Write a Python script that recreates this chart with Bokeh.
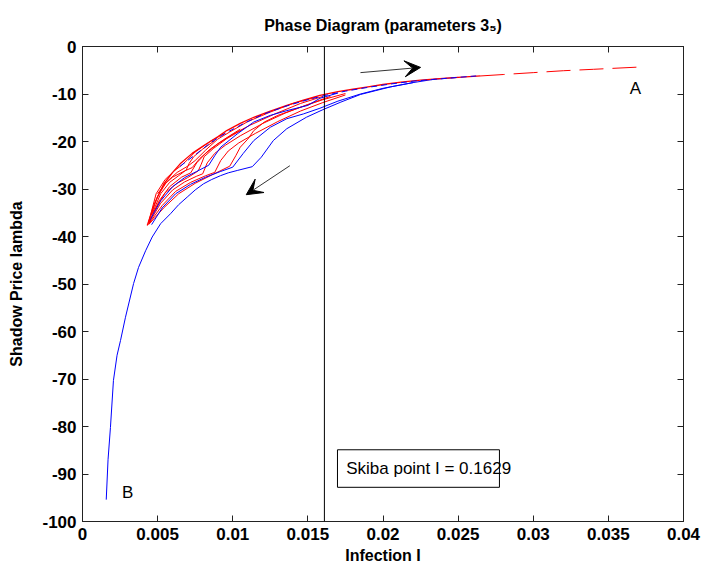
from bokeh.plotting import figure
from bokeh.models import (LinearAxis, FixedTicker, Span, BoxAnnotation, Label, Arrow,
                          VeeHead, Range1d)
from bokeh.embed import file_html
from bokeh.resources import INLINE

# ---------------- data ----------------
x_ticks = [0, 0.005, 0.01, 0.015, 0.02, 0.025, 0.03, 0.035, 0.04]
x_tick_labels = ["0", "0.005", "0.01", "0.015", "0.02", "0.025", "0.03", "0.035", "0.04"]
y_ticks = [0, -10, -20, -30, -40, -50, -60, -70, -80, -90, -100]
y_tick_labels = ["0", "-10", "-20", "-30", "-40", "-50", "-60", "-70", "-80", "-90", "-100"]

skiba_I = 0.0161

# upper (red) trajectory towards A
red_main_x = [0.00431, 0.0048, 0.0054, 0.0060, 0.0065, 0.0073, 0.0081, 0.0090, 0.0096, 0.0105,
              0.0114, 0.0125, 0.0136, 0.0147, 0.0158, 0.0170, 0.0180, 0.0190, 0.0200, 0.0212,
              0.0225, 0.0240, 0.0255, 0.0265]
red_main_y = [-37.7, -33.0, -29.0, -26.5, -24.7, -22.5, -20.8, -19.0, -17.7, -16.2,
              -14.9, -13.6, -12.4, -11.3, -10.3, -9.5, -9.0, -8.5, -8.0, -7.5,
              -7.1, -6.7, -6.4, -6.2]
# dashed continuation to A
red_dash_x = [0.0265, 0.0280, 0.0300, 0.0320, 0.0340, 0.0369]
red_dash_y = [-6.2, -5.9, -5.5, -5.1, -4.8, -4.35]

# inner red trajectories (the leaf-shaped bundle)
red2_x = [0.0044, 0.0050, 0.0056, 0.0063, 0.0070, 0.0075, 0.0082, 0.0090, 0.0098, 0.0110, 0.0125, 0.0140, 0.0155]
red2_y = [-37.0, -31.5, -28.5, -26.5, -25.2, -24.0, -21.8, -19.5, -18.0, -15.8, -13.8, -12.0, -10.7]
red3_x = [0.0044, 0.0051, 0.0058, 0.0066, 0.0072, 0.0076, 0.0082, 0.0090, 0.0100, 0.0112, 0.0128, 0.0145, 0.0160]
red3_y = [-37.2, -32.5, -29.5, -27.5, -26.6, -24.5, -22.5, -20.5, -18.5, -16.5, -14.2, -12.0, -10.5]
red4_x = [0.0044, 0.0052, 0.0060, 0.0068, 0.0076, 0.0080, 0.0083, 0.0088, 0.0095, 0.0105, 0.0120, 0.0135, 0.0150, 0.0165]
red4_y = [-37.3, -33.0, -30.2, -28.5, -27.3, -26.8, -24.5, -22.5, -20.8, -18.8, -16.2, -14.0, -12.2, -10.5]
red5_x = [0.0044, 0.0053, 0.0062, 0.0072, 0.0082, 0.0088, 0.0092, 0.0097, 0.0104, 0.0115, 0.0130, 0.0145, 0.0160, 0.0175]
red5_y = [-37.4, -33.5, -30.5, -28.6, -27.2, -26.5, -24.0, -22.0, -20.3, -18.3, -15.8, -13.6, -11.8, -10.2]
red6_x = [0.0044, 0.0054, 0.0064, 0.0075, 0.0087, 0.0098, 0.0102, 0.0105, 0.0110, 0.0114, 0.0121, 0.0130, 0.0145, 0.0160, 0.0175]
red6_y = [-37.5, -34.0, -31.0, -28.8, -26.9, -25.2, -23.0, -21.2, -19.5, -17.7, -15.9, -14.5, -12.8, -11.2, -9.9]
red7_x = [0.0044, 0.0049, 0.0055, 0.0061, 0.0066, 0.0070, 0.0075, 0.0085, 0.0095]
red7_y = [-37.0, -31.0, -28.0, -26.2, -25.0, -23.8, -22.2, -20.0, -18.2]
red8_x = [0.0050, 0.0055, 0.0060, 0.0068, 0.0073, 0.0078, 0.0085, 0.0094, 0.0105]
red8_y = [-31.0, -28.9, -27.5, -26.2, -25.5, -23.6, -21.6, -19.6, -17.4]
red9_x = [0.0046, 0.0052, 0.0058, 0.0064, 0.0069, 0.0071, 0.0074, 0.0080, 0.0088]
red9_y = [-35.5, -31.0, -28.6, -27.2, -26.0, -24.6, -23.2, -21.6, -19.8]
red10_x = [0.0047, 0.0055, 0.0063, 0.0070, 0.0077, 0.0079, 0.0081, 0.0087, 0.0096, 0.0108]
red10_y = [-35.0, -30.8, -28.8, -27.6, -26.2, -24.8, -23.2, -21.5, -19.4, -17.2]

# blue trajectories
blue_main_x = [0.0065, 0.0075, 0.0085, 0.0096, 0.0108, 0.0120, 0.0135, 0.0150, 0.0160, 0.0175,
               0.0190, 0.0205, 0.0220, 0.0235, 0.0250, 0.0262]
blue_main_y = [-25.2, -22.8, -20.3, -18.1, -16.1, -14.3, -12.6, -11.2, -10.4, -9.4,
               -8.6, -7.9, -7.3, -6.9, -6.5, -6.2]
blue2_x = [0.0045, 0.0052, 0.0060, 0.0068, 0.0076, 0.0084, 0.0088, 0.0092, 0.0103, 0.0114, 0.0125, 0.0136, 0.0150, 0.0158, 0.0170]
blue2_y = [-36.5, -32.5, -29.5, -27.6, -26.3, -25.0, -23.0, -21.2, -18.4, -15.9, -14.5, -13.5, -12.4, -10.9, -9.8]
blue3_x = [0.0046, 0.0053, 0.0062, 0.0072, 0.0082, 0.0092, 0.0100, 0.0107, 0.0114, 0.0125, 0.0136, 0.0147, 0.0158, 0.0170, 0.0185, 0.0200, 0.0220]
blue3_y = [-37.5, -34.0, -31.0, -29.0, -27.5, -26.3, -25.4, -22.5, -19.8, -17.0, -15.2, -14.2, -13.0, -11.5, -10.0, -8.8, -7.6]
# outer blue trajectory from B
blue_outer_x = [0.00158, 0.0017, 0.00186, 0.00206, 0.0023, 0.00253, 0.00286, 0.0034, 0.00373, 0.0042,
                0.00464, 0.0052, 0.00586, 0.0064, 0.00697, 0.0075, 0.00806, 0.0086, 0.00918, 0.0097,
                0.0103, 0.0113, 0.0119, 0.0127, 0.0136, 0.0149, 0.0160, 0.0172, 0.0185, 0.0195,
                0.0205, 0.0220, 0.0234, 0.0250]
blue_outer_y = [-95.4, -87.0, -80.2, -70.3, -65.0, -61.9, -57.0, -49.9, -46.5, -43.0,
                -40.1, -37.3, -35.2, -33.3, -31.7, -30.2, -28.9, -28.0, -27.2, -26.6,
                -26.1, -25.3, -23.3, -19.8, -17.3, -14.9, -13.3, -11.7, -10.1, -9.3,
                -8.5, -7.6, -6.9, -6.5]

# ---------------- figure ----------------
FONT = "Liberation Sans"
p = figure(width=705, height=569, x_range=Range1d(0, 0.04), y_range=Range1d(-100, 0),
           output_backend="svg", toolbar_location=None,
           min_border_left=82, min_border_right=22, min_border_top=46, min_border_bottom=48,
           x_axis_label="Infection I", y_axis_label="Shadow Price lambda")
p.xgrid.visible = False
p.ygrid.visible = False
p.outline_line_color = "#222222"
p.background_fill_color = "white"
p.border_fill_color = "white"

p.title.text = "Phase Diagram (parameters 3\u2085)"
p.title.align = "center"
p.title.text_font = FONT
p.title.text_font_style = "bold"
p.title.text_font_size = "16px"
p.title.text_color = "black"
p.title.standoff = 26


def style_axis(ax, labels=True):
    ax.major_tick_in = 6
    ax.major_tick_out = 0
    ax.minor_tick_line_color = None
    ax.axis_line_color = "#222222"
    ax.major_tick_line_color = "#222222"
    ax.major_label_text_font = FONT
    ax.major_label_text_font_style = "bold"
    ax.axis_label_text_font = FONT
    ax.axis_label_text_font_style = "bold"
    ax.axis_label_text_font_size = "16px"
    ax.axis_label_text_color = "black"
    if labels:
        ax.major_label_text_font_size = "17px"
        ax.major_label_text_color = "black"
    else:
        # tick marks only: labels are not drawn
        ax.major_label_text_font_size = "1px"
        ax.major_label_text_color = None
        ax.major_label_standoff = 0


xa = p.xaxis[0]
xa.ticker = FixedTicker(ticks=x_ticks)
xa.major_label_overrides = {t: s for t, s in zip(x_ticks, x_tick_labels)}
style_axis(xa)
xa.major_label_standoff = 6
xa.axis_label_standoff = 4

ya = p.yaxis[0]
ya.ticker = FixedTicker(ticks=y_ticks)
ya.major_label_overrides = {t: s for t, s in zip(y_ticks, y_tick_labels)}
style_axis(ya)
ya.major_label_standoff = 6
ya.axis_label_standoff = 14

xt = LinearAxis(ticker=FixedTicker(ticks=x_ticks))
style_axis(xt, labels=False)
p.add_layout(xt, "above")
yr = LinearAxis(ticker=FixedTicker(ticks=y_ticks))
style_axis(yr, labels=False)
p.add_layout(yr, "right")

# ---------------- trajectories ----------------
RED = "#ff0000"
BLUE = "#0000ff"
for xs, ys in [(red2_x, red2_y), (red3_x, red3_y), (red4_x, red4_y), (red5_x, red5_y),
               (red6_x, red6_y), (red7_x, red7_y), (red8_x, red8_y), (red9_x, red9_y),
               (red10_x, red10_y)]:
    p.line(xs, ys, line_color=RED, line_width=1)
for xs, ys in [(blue2_x, blue2_y), (blue3_x, blue3_y), (blue_outer_x, blue_outer_y)]:
    p.line(xs, ys, line_color=BLUE, line_width=1)
p.line(red_main_x, red_main_y, line_color=RED, line_width=1.3)
p.line(blue_main_x, blue_main_y, line_color=BLUE, line_width=1, line_dash="6 4")
p.line(red_dash_x, red_dash_y, line_color=RED, line_width=1, line_dash="24 9")

# Skiba line
p.add_layout(Span(location=skiba_I, dimension="height", line_color="black", line_width=1))

# arrows
p.add_layout(Arrow(end=VeeHead(size=16, fill_color="black", fill_alpha=1.0, line_color="black"),
                   x_start=0.0185, y_start=-5.5, x_end=0.0225, y_end=-4.4,
                   line_color="#333333", line_width=1))
p.add_layout(Arrow(end=VeeHead(size=16, fill_color="black", fill_alpha=1.0, line_color="black"),
                   x_start=0.0138, y_start=-25.1, x_end=0.0109, y_end=-31.2,
                   line_color="#333333", line_width=1))

# labels A, B
p.add_layout(Label(x=0.0368, y=-8.8, text="A", text_align="center", text_baseline="middle",
                   text_font=FONT, text_font_size="17px", text_color="black"))
p.add_layout(Label(x=0.0030, y=-93.9, text="B", text_align="center", text_baseline="middle",
                   text_font=FONT, text_font_size="17px", text_color="black"))

# Skiba box
p.add_layout(BoxAnnotation(left=0.01697, right=0.02775, top=-84.9, bottom=-92.8,
                           fill_color="white", fill_alpha=1.0, line_color="black",
                           line_width=1, line_alpha=1.0))
p.add_layout(Label(x=0.01755, y=-88.85, text="Skiba point I = 0.1629", text_align="left",
                   text_baseline="middle", text_font=FONT, text_font_size="17px",
                   text_color="black"))

open("out.html", "w").write(file_html(p, INLINE))
